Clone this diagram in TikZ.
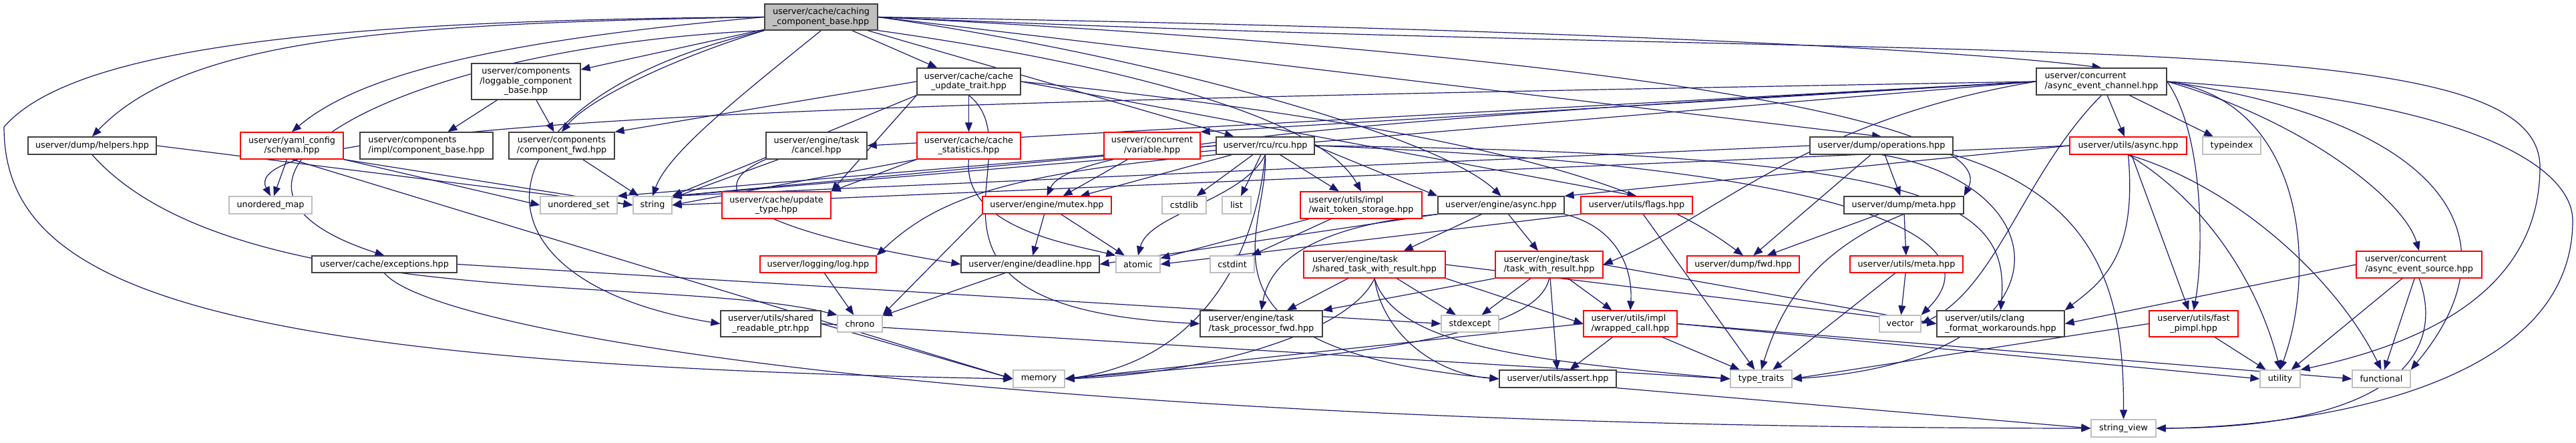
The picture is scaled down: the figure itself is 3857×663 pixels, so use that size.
\documentclass[tikz,border=0pt]{standalone}
\usepackage{fontspec}
\setmainfont{DejaVu Sans}
\usetikzlibrary{arrows.meta,backgrounds}
\definecolor{dGray}{RGB}{64,64,64}
\definecolor{lGray}{RGB}{191,191,191}
\definecolor{eBlue}{RGB}{25,25,112}
\definecolor{rootFill}{RGB}{191,191,191}

\begin{document}
\begin{tikzpicture}[x=1pt,y=-1pt,font=\fontsize{12.8}{14.7}\selectfont,
  hdr/.style={draw=dGray,fill=white,line width=1.2pt,inner sep=0pt,align=center},
  redhdr/.style={hdr,draw=red},
  stdhdr/.style={hdr,draw=lGray},
  roothdr/.style={hdr,fill=rootFill},
  dep/.style={draw=eBlue,line width=1.2pt,-{Triangle[length=14pt,width=11pt]}}]
  \useasboundingbox (0,0) rectangle (3857,663);
  % top rows
  \node[roothdr,align=left,minimum width=169pt,minimum height=39pt] (root) at (1229.5,25.5) {userver/cache/caching\\\_component\_base.hpp};
  \node[hdr,minimum width=163pt,minimum height=54pt] (logg) at (787.5,122) {userver/components\\/loggable\_component\\\_base.hpp};
  \node[hdr,minimum width=155pt,minimum height=40pt] (trait) at (1450.5,122) {userver/cache/cache\\\_update\_trait.hpp};
  \node[hdr,align=left,minimum width=195pt,minimum height=40pt] (aec) at (3146.5,122) {userver/concurrent\\/async\_event\_channel.hpp};
  \node[hdr,minimum width=192pt,minimum height=26pt] (helpers) at (138,218) {userver/dump/helpers.hpp};
  \node[redhdr,minimum width=154pt,minimum height=40pt] (schema) at (437,218) {userver/yaml\_config\\/schema.hpp};
  \node[hdr,align=left,minimum width=199pt,minimum height=40pt] (compbase) at (638.5,218) {userver/components\\/impl/component\_base.hpp};
  \node[hdr,minimum width=158pt,minimum height=40pt] (cfwd) at (841,218) {userver/components\\/component\_fwd.hpp};
  \node[hdr,minimum width=151pt,minimum height=40pt] (cancel) at (1222.5,218) {userver/engine/task\\/cancel.hpp};
  \node[redhdr,minimum width=155pt,minimum height=40pt] (stats) at (1450.5,218) {userver/cache/cache\\\_statistics.hpp};
  \node[redhdr,minimum width=144pt,minimum height=40pt] (var) at (1725,218) {userver/concurrent\\/variable.hpp};
  \node[hdr,minimum width=147pt,minimum height=26pt] (rcu) at (1894.5,218) {userver/rcu/rcu.hpp};
  \node[hdr,minimum width=214pt,minimum height=26pt] (ops) at (2817,218) {userver/dump/operations.hpp};
  \node[redhdr,minimum width=175pt,minimum height=26pt] (uasync) at (3186.5,218) {userver/utils/async.hpp};
  \node[stdhdr,minimum width=87pt,minimum height=26pt] (typeindex) at (3341.5,218) {typeindex};
  % middle rows
  \node[stdhdr,minimum width=124pt,minimum height=26pt] (umap) at (405,307) {unordered\_map};
  \node[stdhdr,minimum width=115pt,minimum height=26pt] (uset) at (866.5,307) {unordered\_set};
  \node[stdhdr,minimum width=58pt,minimum height=26pt] (str) at (977,307) {string};
  \node[redhdr,minimum width=163pt,minimum height=40pt] (utype) at (1162.5,307) {userver/cache/update\\\_type.hpp};
  \node[redhdr,minimum width=193pt,minimum height=26pt] (mutex) at (1567.5,307) {userver/engine/mutex.hpp};
  \node[stdhdr,minimum width=66pt,minimum height=26pt] (cstdlib) at (1773,307) {cstdlib};
  \node[stdhdr,minimum width=43pt,minimum height=26pt] (list) at (1851.5,307) {list};
  \node[redhdr,align=left,minimum width=182pt,minimum height=40pt] (wts) at (2038,307) {userver/utils/impl\\/wait\_token\_storage.hpp};
  \node[hdr,minimum width=189pt,minimum height=26pt] (async) at (2247.5,307) {userver/engine/async.hpp};
  \node[redhdr,minimum width=167pt,minimum height=26pt] (flags) at (2450.5,307) {userver/utils/flags.hpp};
  \node[hdr,minimum width=179pt,minimum height=26pt] (dmeta) at (2850.5,307) {userver/dump/meta.hpp};
  \node[hdr,minimum width=217pt,minimum height=25pt] (exc) at (575.5,395.5) {userver/cache/exceptions.hpp};
  \node[redhdr,minimum width=174pt,minimum height=25pt] (log) at (1225,395.5) {userver/logging/log.hpp};
  \node[hdr,minimum width=207pt,minimum height=25pt] (deadline) at (1542.5,395.5) {userver/engine/deadline.hpp};
  \node[stdhdr,minimum width=66pt,minimum height=25pt] (atomic) at (1704,395.5) {atomic};
  \node[stdhdr,minimum width=66pt,minimum height=25pt] (cstdint) at (1845,395.5) {cstdint};
  \node[redhdr,align=left,minimum width=212pt,minimum height=40pt] (stwr) at (2058,396) {userver/engine/task\\/shared\_task\_with\_result.hpp};
  \node[redhdr,align=left,minimum width=161pt,minimum height=40pt] (twr) at (2319.5,396) {userver/engine/task\\/task\_with\_result.hpp};
  \node[redhdr,minimum width=168pt,minimum height=25pt] (dfwd) at (2610,395.5) {userver/dump/fwd.hpp};
  \node[redhdr,minimum width=169pt,minimum height=25pt] (umeta) at (2854.5,395.5) {userver/utils/meta.hpp};
  \node[redhdr,align=left,minimum width=188pt,minimum height=40pt] (aes) at (3622,396) {userver/concurrent\\/async\_event\_source.hpp};
  % lower rows
  \node[hdr,minimum width=150pt,minimum height=39pt] (srp) at (1154,484.5) {userver/utils/shared\\\_readable\_ptr.hpp};
  \node[stdhdr,minimum width=67pt,minimum height=25pt] (chrono) at (1287.5,484.5) {chrono};
  \node[hdr,align=left,minimum width=183pt,minimum height=39pt] (tpfwd) at (1888.5,484.5) {userver/engine/task\\/task\_processor\_fwd.hpp};
  \node[stdhdr,minimum width=86pt,minimum height=25pt] (stdexcept) at (2201,484.5) {stdexcept};
  \node[redhdr,align=left,minimum width=140pt,minimum height=39pt] (wcall) at (2441,484.5) {userver/utils/impl\\/wrapped\_call.hpp};
  \node[stdhdr,minimum width=62pt,minimum height=25pt] (vector) at (2845,484.5) {vector};
  \node[hdr,align=left,minimum width=191pt,minimum height=39pt] (clang) at (2995.5,484.5) {userver/utils/clang\\\_format\_workarounds.hpp};
  \node[redhdr,minimum width=133pt,minimum height=39pt] (pimpl) at (3284.5,484.5) {userver/utils/fast\\\_pimpl.hpp};
  \node[stdhdr,minimum width=77pt,minimum height=26pt] (memory) at (1555.5,567) {memory};
  \node[hdr,minimum width=175pt,minimum height=26pt] (assert) at (2332.5,567) {userver/utils/assert.hpp};
  \node[stdhdr,minimum width=92pt,minimum height=26pt] (ttraits) at (2637,567) {type\_traits};
  \node[stdhdr,minimum width=60pt,minimum height=26pt] (utility) at (3414,567) {utility};
  \node[stdhdr,minimum width=87pt,minimum height=26pt] (functional) at (3565.5,567) {functional};
  \node[stdhdr,minimum width=97pt,minimum height=26pt] (sview) at (3179.5,641) {string\_view};

  \begin{scope}[on background layer]
  % caching_component_base.hpp
  \draw[dep] (root.west) .. controls (600,35) and (280,55) .. (helpers.north);
  \draw[dep] (root.west) .. controls (500,30) and (110,70) .. (6,190) .. controls (6,430) and (300,545) .. (memory.west);
  \draw[dep] (root.west) .. controls (750,60) and (540,110) .. (schema.north);
  \draw[dep] (root.south west) .. controls (600,70) and (230,270) .. (exc.north);
  \draw[dep] (root.south west) .. controls (700,150) and (680,420) .. (srp.west);
  \draw[dep] (root) -- (logg);
  \draw[dep] (root.south west) .. controls (1000,90) and (880,150) .. (cfwd.north);
  \draw[dep] (root.south) .. controls (1100,150) and (1000,230) .. (str.north);
  \draw[dep] (root) -- (trait);
  \draw[dep] (root) -- (rcu);
  \draw[dep] (root.east) .. controls (2200,40) and (2900,70) .. (aec.north);
  \draw[dep] (root.east) -- (ops.north);
  \draw[dep] (root.east) .. controls (2400,80) and (3000,180) .. (dmeta.north east);
  \draw[dep] (root.east) .. controls (1700,80) and (2150,200) .. (async.north);
  \draw[dep] (root.south east) .. controls (1700,100) and (1980,180) .. (wts.north);
  \draw[dep] (root.east) .. controls (3000,100) and (3803,30) .. (3803,250) .. controls (3803,450) and (3600,520) .. (utility.north east);
  % cache_update_trait.hpp and cache_statistics.hpp
  \draw[dep] (trait) -- (stats);
  \draw[dep] (trait.south west) -- (utype.north east);
  \draw[dep] (trait.west) -- (cfwd.north east);
  \draw[dep] (trait.south west) -- (str.north east);
  \draw[dep] (trait.east) -- (flags.north);
  \draw[dep] (trait.east) .. controls (2300,200) and (2500,300) .. (dfwd.north);
  \draw[dep] (trait.south) .. controls (1560,230) and (1300,460) .. (tpfwd.west);
  \draw[dep] (stats.south west) -- (str.east);
  \draw[dep] (stats.south west) -- (utype.north east);
  \draw[dep] (stats.south) .. controls (1440,340) and (1600,365) .. (atomic.north west);
  % components, yaml, dump helpers
  \draw[dep] (logg) -- (compbase);
  \draw[dep] (logg) -- (cfwd);
  \draw[dep] (cfwd) -- (str);
  \draw[dep] (schema) -- (umap);
  \draw[dep] (schema.south east) -- (uset.west);
  \draw[dep] (schema.south east) -- (str.west);
  \draw[dep] (schema.south) -- (memory.west);
  \draw[dep] (helpers.east) -- (str.west);
  \draw[dep] (helpers.south) .. controls (350,470) and (1000,410) .. (chrono.north west);
  \draw[dep] (exc.east) -- (stdexcept.west);
  \draw[dep] (exc.south) .. controls (650,500) and (1500,640) .. (sview.west);
  \draw[dep] (cancel) -- (str);
  \draw[dep] (cancel.south west) .. controls (1050,280) and (1100,340) .. (deadline.west);
  \draw[dep] (log) -- (chrono);
  \draw[dep] (srp.east) -- (memory.west);
  \draw[dep] (srp.east) -- (ttraits.west);
  % rcu.hpp
  \draw[dep] (rcu.west) -- (uset.north east);
  \draw[dep] (rcu.west) -- (str.north east);
  \draw[dep] (rcu) -- (mutex);
  \draw[dep] (rcu) -- (cstdlib);
  \draw[dep] (rcu) -- (list);
  \draw[dep] (rcu.south) .. controls (1860,300) and (1720,320) .. (atomic.north);
  \draw[dep] (rcu) -- (wts);
  \draw[dep] (rcu.east) -- (async.north west);
  \draw[dep] (rcu.south west) .. controls (1500,260) and (1400,300) .. (log.north east);
  \draw[dep] (rcu.south) .. controls (1880,380) and (1800,540) .. (memory.east);
  \draw[dep] (rcu.south) .. controls (1900,350) and (1760,520) .. (assert.west);
  \draw[dep] (rcu.east) .. controls (2900,230) and (3010,300) .. (clang.north);
  \draw[dep] (rcu.east) .. controls (2800,250) and (2990,360) .. (vector.north east);
  % engine
  \draw[dep] (var) -- (mutex);
  \draw[dep] (mutex.south west) -- (chrono.north east);
  \draw[dep] (mutex) -- (deadline);
  \draw[dep] (mutex) -- (atomic);
  \draw[dep] (deadline) -- (chrono);
  \draw[dep] (wts) -- (atomic);
  \draw[dep] (wts) -- (cstdint);
  \draw[dep] (async) -- (stwr);
  \draw[dep] (async) -- (twr);
  \draw[dep] (async.south east) .. controls (2420,340) and (2445,400) .. (wcall.north);
  \draw[dep] (async.south west) -- (deadline.east);
  \draw[dep] (async.south west) .. controls (1950,340) and (1900,400) .. (tpfwd.north);
  \draw[dep] (flags.south west) -- (atomic.east);
  \draw[dep] (flags) -- (ttraits);
  \draw[dep] (stwr) -- (tpfwd);
  \draw[dep] (stwr) -- (stdexcept);
  \draw[dep] (stwr.south east) -- (wcall.west);
  \draw[dep] (stwr.south) .. controls (2070,500) and (2150,560) .. (assert.west);
  \draw[dep] (stwr.south) .. controls (2020,500) and (1800,560) .. (memory.east);
  \draw[dep] (stwr.south) .. controls (2090,520) and (2300,540) .. (ttraits.west);
  \draw[dep] (stwr.east) -- (clang.west);
  \draw[dep] (twr.south west) -- (tpfwd.north east);
  \draw[dep] (twr) -- (stdexcept);
  \draw[dep] (twr) -- (wcall);
  \draw[dep] (twr) -- (assert);
  \draw[dep] (twr.south) .. controls (2300,520) and (1900,540) .. (memory.east);
  \draw[dep] (twr.east) -- (clang.west);
  \draw[dep] (wcall) -- (assert);
  \draw[dep] (wcall.west) -- (memory.east);
  \draw[dep] (wcall) -- (ttraits);
  \draw[dep] (wcall.east) -- (utility.west);
  \draw[dep] (wcall.east) -- (functional.west);
  \draw[dep] (assert.south east) -- (sview.west);
  % dump
  \draw[dep] (ops.west) -- (str.north east);
  \draw[dep] (ops) -- (dfwd);
  \draw[dep] (ops) -- (dmeta);
  \draw[dep] (ops.south east) .. controls (3150,300) and (3180,450) .. (sview.north);
  \draw[dep] (ops.south) .. controls (3100,280) and (3100,540) .. (ttraits.east);
  \draw[dep] (dmeta) -- (dfwd);
  \draw[dep] (dmeta) -- (umeta);
  \draw[dep] (dmeta.south) .. controls (2700,380) and (2660,480) .. (ttraits.north);
  \draw[dep] (umeta) -- (vector);
  \draw[dep] (umeta) -- (ttraits);
  % async_event_channel.hpp
  \draw[dep] (aec.west) -- (cancel.east);
  \draw[dep] (aec.west) -- (var.north east);
  \draw[dep] (aec.west) .. controls (2000,180) and (1600,220) .. (mutex.north);
  \draw[dep] (aec.west) -- (str.north east);
  \draw[dep] (aec.west) .. controls (1500,150) and (340,170) .. (umap.north);
  \draw[dep] (aec.west) .. controls (2700,180) and (2560,330) .. (twr.east);
  \draw[dep] (aec) -- (typeindex);
  \draw[dep] (aec) -- (uasync);
  \draw[dep] (aec.east) .. controls (3450,180) and (3600,300) .. (aes.north);
  \draw[dep] (aec.east) .. controls (3450,150) and (3470,400) .. (utility.north);
  \draw[dep] (aec.east) .. controls (3650,180) and (3780,350) .. (functional.north east);
  \draw[dep] (aec.south) .. controls (3030,260) and (2990,430) .. (vector.east);
  \draw[dep] (aec.east) .. controls (3300,200) and (3300,380) .. (pimpl.north);
  \draw[dep] (aec.east) .. controls (3700,150) and (3852,250) .. (3852,330) .. controls (3852,600) and (3400,640) .. (sview.east);
  % utils
  \draw[dep] (uasync.west) -- (async.north east);
  \draw[dep] (uasync.west) -- (str.east);
  \draw[dep] (uasync) -- (pimpl);
  \draw[dep] (uasync.south) .. controls (3300,300) and (3380,420) .. (utility.north);
  \draw[dep] (uasync.south) .. controls (3350,280) and (3500,420) .. (functional.north);
  \draw[dep] (uasync.south) .. controls (3200,380) and (3150,420) .. (clang.north east);
  \draw[dep] (aes) -- (utility);
  \draw[dep] (aes) -- (functional);
  \draw[dep] (aes.west) -- (clang.east);
  \draw[dep] (aes.south) .. controls (3660,520) and (3600,640) .. (sview.east);
  \draw[dep] (pimpl.west) -- (ttraits.east);
  \draw[dep] (pimpl) -- (utility);
  \end{scope}
\end{tikzpicture}
\end{document}
